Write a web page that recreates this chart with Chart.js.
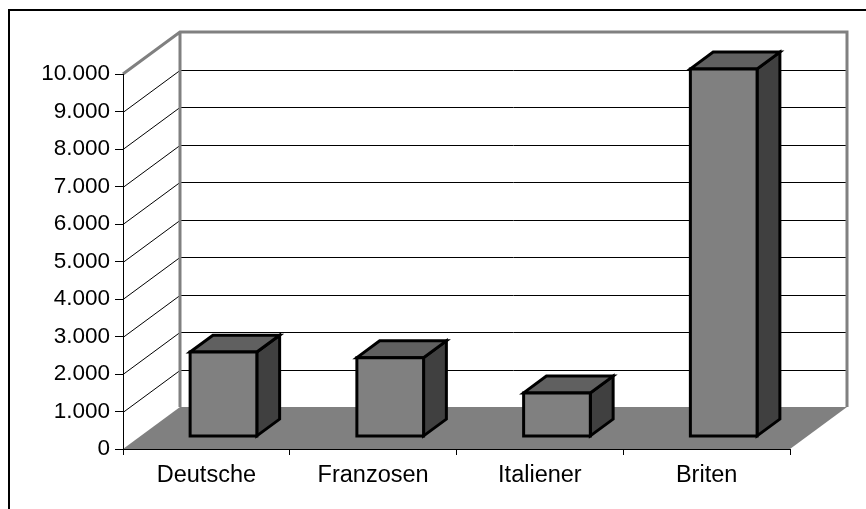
<!DOCTYPE html>
<html>
<head>
<meta charset="utf-8">
<title>Touristen</title>
<script src="https://cdn.jsdelivr.net/npm/chart.js@4/dist/chart.umd.min.js"></script>
<style>
  html, body { margin: 0; padding: 0; background: #fff; }
  canvas { display: block; }
</style>
</head>
<body>
<canvas id="chart" width="866" height="509"></canvas>
<script>
const categories = ['Deutsche', 'Franzosen', 'Italiener', 'Briten'];
const values = [2250, 2100, 1160, 9800];
const yTickValues = [0, 1000, 2000, 3000, 4000, 5000, 6000, 7000, 8000, 9000, 10000];

// oblique depth of the floor / back wall, in pixels
const DEPTH_X = 57;
const DEPTH_Y = -42;
// bars sit in the middle of the depth
const BAR_FRONT = 0.3;
const BAR_DEPTH = 0.4;

const FAMILY = 'Arial, "Liberation Sans", sans-serif';

function fmt(v) {
  return String(v).replace(/\B(?=(\d{3})+(?!\d))/g, '.');
}

const box3d = {
  id: 'box3d',
  beforeDraw(chart) {
    const { ctx, chartArea: a, scales: { y } } = chart;
    const y0 = y.getPixelForValue(yTickValues[0]);
    const yTop = y.getPixelForValue(yTickValues[yTickValues.length - 1]);
    ctx.save();
    ctx.fillStyle = '#fff';
    ctx.fillRect(0, 0, chart.width, chart.height);

    // outer frame
    ctx.strokeStyle = '#000';
    ctx.lineWidth = 2;
    ctx.strokeRect(9, 10, chart.width + 20, chart.height + 20);

    // floor
    ctx.fillStyle = '#808080';
    ctx.beginPath();
    ctx.moveTo(a.left, y0);
    ctx.lineTo(a.right, y0);
    ctx.lineTo(a.right + DEPTH_X, y0 + DEPTH_Y);
    ctx.lineTo(a.left + DEPTH_X, y0 + DEPTH_Y);
    ctx.closePath();
    ctx.fill();

    // grid lines: diagonal on the side, flat on the back wall
    ctx.strokeStyle = '#000';
    ctx.lineWidth = 1;
    yTickValues.slice(1, -1).forEach(v => {
      const py = Math.round(y.getPixelForValue(v)) + 0.5;
      ctx.beginPath();
      ctx.moveTo(a.left, py);
      ctx.lineTo(a.left + DEPTH_X, py + DEPTH_Y);
      ctx.lineTo(a.right + DEPTH_X, py + DEPTH_Y);
      ctx.stroke();
    });

    // wall edges
    ctx.strokeStyle = '#808080';
    ctx.lineWidth = 3;
    ctx.beginPath();
    ctx.moveTo(a.left, yTop);
    ctx.lineTo(a.left + DEPTH_X, yTop + DEPTH_Y);
    ctx.lineTo(a.right + DEPTH_X, yTop + DEPTH_Y);
    ctx.lineTo(a.right + DEPTH_X, y0 + DEPTH_Y);
    ctx.moveTo(a.left + DEPTH_X, yTop + DEPTH_Y);
    ctx.lineTo(a.left + DEPTH_X, y0 + DEPTH_Y);
    ctx.stroke();
    ctx.restore();
  },
  afterDatasetsDraw(chart) {
    const { ctx } = chart;
    const ox = DEPTH_X * BAR_FRONT, oy = DEPTH_Y * BAR_FRONT;
    const dx = DEPTH_X * BAR_DEPTH, dy = DEPTH_Y * BAR_DEPTH;
    ctx.save();
    ctx.strokeStyle = '#000';
    ctx.lineWidth = 3;
    chart.getDatasetMeta(0).data.forEach(bar => {
      const { x, y, base, width } = bar.getProps(['x', 'y', 'base', 'width'], true);
      const l = x - width / 2 + ox, r = x + width / 2 + ox;
      const t = y + oy, b = base + oy;

      const face = (pts, fill) => {
        ctx.beginPath();
        ctx.moveTo(pts[0][0], pts[0][1]);
        pts.slice(1).forEach(p => ctx.lineTo(p[0], p[1]));
        ctx.closePath();
        ctx.fillStyle = fill;
        ctx.fill();
        ctx.stroke();
      };
      face([[r, t], [r + dx, t + dy], [r + dx, b + dy], [r, b]], '#404040');
      face([[l, t], [l + dx, t + dy], [r + dx, t + dy], [r, t]], '#606060');
      face([[l, t], [r, t], [r, b], [l, b]], '#808080');
    });
    ctx.restore();
  }
};

new Chart(document.getElementById('chart'), {
  type: 'bar',
  data: {
    labels: categories,
    datasets: [{
      data: values,
      backgroundColor: 'rgba(0,0,0,0)',
      borderWidth: 0,
      barPercentage: 0.4,
      categoryPercentage: 1
    }]
  },
  options: {
    responsive: false,
    animation: false,
    devicePixelRatio: 1,
    layout: { padding: { left: 0, top: 74, right: 76, bottom: 0 } },
    plugins: {
      legend: { display: false },
      tooltip: { enabled: false }
    },
    scales: {
      x: {
        grid: { offset: true, drawOnChartArea: false, tickLength: 6, color: '#000' },
        border: { color: '#000' },
        ticks: { color: '#000', font: { family: FAMILY, size: 23.5 }, padding: 6, maxRotation: 0 },
        afterFit(s) { s.height = 60; }
      },
      y: {
        min: 0,
        max: 10000,
        afterBuildTicks(s) { s.ticks = yTickValues.map(v => ({ value: v })); },
        grid: { drawOnChartArea: false, tickLength: 8, color: '#000' },
        border: { color: '#000' },
        ticks: { color: '#000', font: { family: FAMILY, size: 22.5 }, padding: 5, callback: v => fmt(v) },
        afterFit(s) { s.width = 123; }
      }
    }
  },
  plugins: [box3d]
});
</script>
</body>
</html>
